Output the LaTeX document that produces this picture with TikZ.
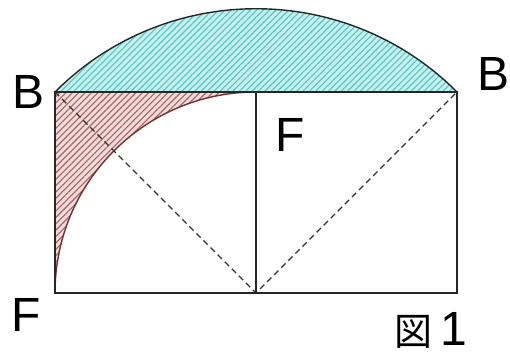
\documentclass[tikz,border=0pt]{standalone}
\usepackage{fontspec}
\setmainfont{Liberation Sans}
\newfontfamily\jpfont{Noto Sans CJK JP}
\usetikzlibrary{patterns.meta}
\definecolor{segfill}{HTML}{C4F0EE}
\definecolor{segline}{HTML}{58C4C4}
\definecolor{cornfill}{HTML}{F3DADB}
\definecolor{cornline}{HTML}{A86464}
\definecolor{arcred}{HTML}{6E3434}

\begin{document}
\begin{tikzpicture}[x=1pt, y=1pt,
    lbl/.style={font=\fontsize{48}{48}\selectfont, inner sep=0pt},
    seghatch/.style={preaction={fill=segfill}, pattern={Lines[angle=45, distance=4.5pt, line width=1.1pt]}, pattern color=segline},
    cornhatch/.style={preaction={fill=cornfill}, pattern={Lines[angle=45, distance=4.5pt, line width=1.1pt]}, pattern color=cornline},
    edge/.style={draw=black!85, line width=1.4pt},
    guide/.style={draw=black!80, line width=1.3pt, dash pattern=on 6pt off 4pt},
]
\useasboundingbox (0,0) rectangle (510,356);

\coordinate (BL) at (55,264);
\coordinate (BR) at (457,264);
\coordinate (FL) at (55,63);
\coordinate (FR) at (457,63);
\coordinate (M) at (256,63);
\coordinate (MT) at (256,264);

% shaded parts
\path[seghatch] (BL) arc[start angle=135, end angle=45, radius=284.26] -- cycle;
\path[cornhatch] (MT) -- (BL) -- (FL) arc[start angle=180, end angle=90, radius=201] -- cycle;

% outlines
\draw[edge] (BL) arc[start angle=135, end angle=45, radius=284.26];
\draw[draw=arcred, line width=1.4pt] (FL) arc[start angle=180, end angle=90, radius=201];
\draw[guide] (BL) -- (M) -- (BR);
\draw[edge] (BL) rectangle (FR);
\draw[edge] (M) -- (MT);

% labels
\node[lbl] (b1) at (29,264) {B};
\node[lbl] (b2) at (493,282) {B};
\node[lbl] (f1) at (26,41) {F};
\node[lbl] (f2) at (290,221) {F};
\node[lbl, anchor=base] (fig) at (431,11) {{\jpfont\fontsize{38}{38}\selectfont 図}\hspace{8pt}1};
\end{tikzpicture}
\end{document}
